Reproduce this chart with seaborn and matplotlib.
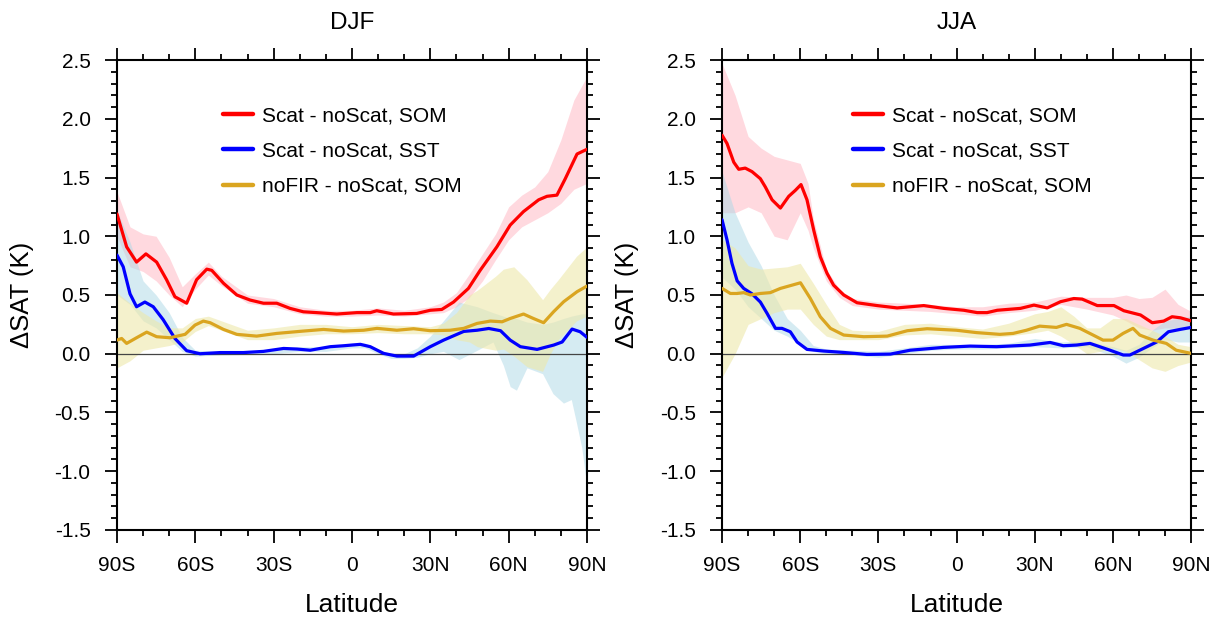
import numpy as np
import pandas as pd
import matplotlib
matplotlib.use("Agg")
import matplotlib.pyplot as plt
import seaborn as sns

# ---------------- DATA ----------------
# DJF mean curves
djf_red_lat = [-90, -86.3, -82.5, -78.9, -74.8, -71, -67.8, -63.3, -59.5, -55.6, -53.7, -49.2, -44.1, -39, -33.9,
               -28.8, -23.7, -18.6, -13.5, -5.8, 1.9, 7, 9.5, 15.9, 24.8, 30, 34.4, 38.9, 44.6, 49.1, 55.5, 60.6,
               65.7, 71.5, 74.7, 78.5, 81.7, 86.2, 90]
djf_red_val = [1.19, 0.91, 0.78, 0.85, 0.78, 0.63, 0.485, 0.43, 0.63, 0.72, 0.71, 0.60, 0.50, 0.457, 0.43,
               0.43, 0.386, 0.357, 0.35, 0.338, 0.35, 0.35, 0.366, 0.338, 0.343, 0.37, 0.377, 0.44, 0.556, 0.71,
               0.91, 1.095, 1.21, 1.31, 1.34, 1.35, 1.49, 1.70, 1.74]

djf_blue_lat = [-90, -87.6, -85, -82.5, -79.3, -76.1, -72.3, -67.8, -63.3, -58.2, -50.5, -41.6, -33.9, -26.2,
                -21.1, -16, -8.3, -3.2, 3.2, 7, 12.1, 17.2, 23.6, 30, 35.1, 42.8, 47.9, 52.4, 56.9, 60.6, 64.5,
                70.9, 77.3, 80.5, 84.3, 87.4, 90]
djf_blue_val = [0.84, 0.74, 0.51, 0.40, 0.44, 0.40, 0.29, 0.13, 0.026, 0.0, 0.01, 0.01, 0.02, 0.045,
                0.04, 0.03, 0.06, 0.068, 0.08, 0.06, 0.003, -0.02, -0.02, 0.06, 0.116, 0.19, 0.20, 0.215, 0.196,
                0.116, 0.06, 0.037, 0.074, 0.10, 0.21, 0.187, 0.14]

djf_gold_lat = [-90, -88.2, -86.3, -82.5, -78.6, -74.8, -69.7, -63.9, -60.1, -56.9, -54.3, -49.2, -44.1, -36.5,
                -28.8, -18.6, -10.9, -3.2, 4.5, 9.6, 17.2, 23.6, 30, 37.6, 42.8, 47.9, 53, 57.5, 60.6, 65.7,
                69.5, 73.4, 77.2, 81.1, 86.2, 90]
djf_gold_val = [0.116, 0.13, 0.088, 0.136, 0.184, 0.145, 0.136, 0.165, 0.244, 0.278, 0.264, 0.207, 0.165, 0.15,
                0.173, 0.193, 0.207, 0.193, 0.20, 0.216, 0.20, 0.213, 0.196, 0.20, 0.216, 0.258, 0.278, 0.272,
                0.30, 0.338, 0.30, 0.264, 0.357, 0.443, 0.528, 0.576]

# DJF uncertainty bands
djf_red_band_lat = [-90, -85, -80, -75, -70, -65, -60, -55, -50, -40, -30, -20, -10, 0, 10, 20, 30, 35, 40, 45,
                    50, 55, 60, 65, 70, 75, 80, 85, 90]
djf_red_lo = [1.00, 0.74, 0.70, 0.62, 0.50, 0.40, 0.55, 0.67, 0.58, 0.43, 0.40, 0.34, 0.32, 0.32, 0.33, 0.32,
              0.34, 0.35, 0.40, 0.48, 0.62, 0.80, 0.97, 1.08, 1.14, 1.20, 1.28, 1.40, 1.45]
djf_red_hi = [1.38, 1.08, 1.02, 1.00, 0.82, 0.57, 0.68, 0.78, 0.66, 0.50, 0.47, 0.40, 0.37, 0.37, 0.39, 0.37,
              0.40, 0.44, 0.52, 0.68, 0.85, 1.02, 1.25, 1.35, 1.42, 1.55, 1.82, 2.16, 2.36]

djf_blue_band_lat = [-90, -85, -80, -75, -70, -65, -60, -50, -40, -30, -20, -10, 0, 5, 10, 15, 20, 25, 30, 35,
                     41, 48, 54, 58, 60.6, 63, 67, 73, 77, 81, 84, 86, 88, 90]
djf_blue_lo = [0.50, 0.42, 0.28, 0.22, 0.12, 0.02, -0.02, -0.01, -0.005, 0.0, 0.02, 0.02, 0.05, 0.05, 0.0,
               -0.04, -0.04, -0.03, 0.0, 0.02, -0.05, 0.03, 0.10, -0.10, -0.28, -0.31, -0.12, -0.17, -0.34,
               -0.42, -0.39, -0.59, -0.80, -1.13]
djf_blue_hi = [1.22, 0.95, 0.62, 0.50, 0.35, 0.14, 0.03, 0.02, 0.025, 0.04, 0.06, 0.06, 0.09, 0.09, 0.04,
               0.0, 0.0, 0.05, 0.15, 0.28, 0.44, 0.40, 0.35, 0.32, 0.30, 0.30, 0.27, 0.25, 0.27, 0.30, 0.32,
               0.33, 0.34, 0.34]

djf_gold_band_lat = [-90, -85, -80, -75, -70, -65, -60, -55, -50, -40, -30, -20, -10, 0, 10, 20, 30, 35, 40, 45,
                     48, 55, 58, 62, 67, 73, 76, 79, 86, 90]
djf_gold_lo = [-0.12, -0.06, 0.03, 0.05, 0.07, 0.10, 0.19, 0.24, 0.20, 0.12, 0.12, 0.15, 0.17, 0.17, 0.18, 0.17,
               0.17, 0.16, 0.12, 0.10, 0.06, 0.03, 0.04, -0.02, -0.11, -0.15, 0.00, 0.12, 0.28, 0.32]
djf_gold_hi = [0.52, 0.43, 0.35, 0.28, 0.22, 0.22, 0.30, 0.32, 0.28, 0.20, 0.22, 0.25, 0.25, 0.23, 0.25, 0.24,
               0.23, 0.26, 0.35, 0.50, 0.54, 0.66, 0.72, 0.74, 0.63, 0.46, 0.55, 0.63, 0.83, 0.91]

# JJA mean curves
jja_red_lat = [-90, -88.1, -85.5, -83.6, -81.1, -78.5, -75.3, -73.4, -70.8, -67.6, -64.4, -61.9, -59.7, -57.4,
               -54.8, -52.3, -49.7, -47.2, -43.3, -38.2, -30.5, -22.8, -12.6, -4.9, 2.8, 7.9, 11.7, 15.6, 24.5,
               29.7, 34.8, 39.9, 45, 48.2, 54, 60.4, 64.2, 70.6, 75.1, 79.5, 82.7, 85.9, 90]
jja_red_val = [1.86, 1.79, 1.63, 1.57, 1.58, 1.55, 1.49, 1.42, 1.31, 1.24, 1.34, 1.39, 1.44, 1.31,
               1.05, 0.826, 0.684, 0.584, 0.50, 0.434, 0.41, 0.39, 0.41, 0.386, 0.37, 0.35, 0.35, 0.37, 0.386,
               0.414, 0.39, 0.443, 0.47, 0.465, 0.41, 0.41, 0.366, 0.33, 0.264, 0.278, 0.315, 0.306, 0.28]

jja_blue_lat = [-90, -88.1, -86.2, -84.2, -81.7, -78.5, -75.3, -72.7, -69.5, -67, -63.8, -61.2, -57.4, -51,
                -43.3, -34.4, -25.4, -17.8, -5, 5.2, 15.4, 28.2, 35.9, 41, 46.1, 51.2, 58.9, 64, 66.5, 71.7,
                76.8, 81.3, 85.8, 90]
jja_blue_val = [1.14, 0.97, 0.77, 0.62, 0.556, 0.51, 0.44, 0.343, 0.216, 0.216, 0.187, 0.10, 0.037, 0.023,
                0.011, -0.006, -0.003, 0.03, 0.054, 0.065, 0.06, 0.074, 0.096, 0.068, 0.074, 0.088, 0.03, -0.011,
                -0.011, 0.045, 0.10, 0.187, 0.207, 0.224]

jja_gold_lat = [-90, -86.8, -84.2, -81.7, -79.1, -75.3, -71.5, -67.6, -63.1, -59.9, -56.1, -52.3, -48.4, -43.3,
                -35.6, -26.6, -18.9, -11.3, -0.1, 7.6, 16.6, 21.7, 26.8, 31.9, 38.3, 42.2, 47.3, 52.4, 56.2, 60,
                63.9, 67.7, 70.3, 75.4, 80.5, 84.3, 90]
jja_gold_val = [0.556, 0.513, 0.513, 0.52, 0.50, 0.513, 0.52, 0.556, 0.584, 0.604, 0.47, 0.315, 0.216, 0.159,
                0.145, 0.15, 0.196, 0.213, 0.20, 0.18, 0.165, 0.173, 0.20, 0.235, 0.224, 0.25, 0.216, 0.159,
                0.116, 0.116, 0.173, 0.216, 0.159, 0.116, 0.088, 0.03, 0.003]

# JJA uncertainty bands
jja_red_band_lat = [-90, -85, -80, -75, -70, -65, -60, -57, -55, -50, -45, -40, -30, -20, -10, 0, 10, 20, 30,
                    40, 50, 60, 65, 70, 75, 80, 85, 90]
jja_red_lo = [1.20, 1.20, 1.25, 1.20, 1.00, 0.97, 1.20, 1.05, 0.90, 0.62, 0.48, 0.41, 0.38, 0.37, 0.36, 0.34,
              0.32, 0.35, 0.37, 0.42, 0.38, 0.33, 0.28, 0.22, 0.20, 0.22, 0.22, 0.22]
jja_red_hi = [2.47, 2.20, 1.85, 1.75, 1.68, 1.65, 1.62, 1.45, 1.15, 0.72, 0.55, 0.47, 0.44, 0.43, 0.42, 0.40,
              0.40, 0.43, 0.44, 0.49, 0.48, 0.48, 0.50, 0.47, 0.48, 0.55, 0.42, 0.36]

jja_blue_band_lat = [-90, -85, -80, -75, -70, -65, -60, -55, -50, -40, -30, -20, -10, 0, 10, 20, 30, 40, 50, 60,
                     65, 70, 75, 80, 85, 90]
jja_blue_lo = [0.65, 0.55, 0.40, 0.30, 0.20, 0.15, 0.08, 0.02, 0.00, -0.01, -0.03, 0.00, 0.03, 0.04, 0.04, 0.05,
               0.06, 0.05, 0.06, -0.02, -0.08, -0.03, 0.05, 0.12, 0.10, 0.10]
jja_blue_hi = [1.55, 1.20, 0.95, 0.75, 0.50, 0.30, 0.20, 0.07, 0.04, 0.03, 0.02, 0.05, 0.08, 0.08, 0.08, 0.09,
               0.13, 0.10, 0.11, 0.06, 0.03, 0.08, 0.20, 0.28, 0.30, 0.32]

jja_gold_band_lat = [-90, -85, -80, -75, -70, -65, -60, -55, -50, -45, -40, -30, -20, -10, 0, 10, 20, 30, 35, 40,
                     45, 50, 55, 60, 65, 70, 75, 80, 85, 90]
jja_gold_lo = [-0.20, 0.00, 0.25, 0.30, 0.35, 0.38, 0.38, 0.25, 0.15, 0.12, 0.12, 0.12, 0.16, 0.17, 0.15, 0.13,
               0.15, 0.18, 0.20, 0.15, 0.08, 0.00, 0.02, 0.05, 0.02, -0.05, -0.12, -0.15, -0.10, -0.07]
jja_gold_hi = [0.97, 0.90, 0.75, 0.72, 0.73, 0.74, 0.77, 0.60, 0.42, 0.25, 0.20, 0.19, 0.25, 0.26, 0.23, 0.21,
               0.26, 0.34, 0.36, 0.40, 0.32, 0.22, 0.22, 0.30, 0.30, 0.25, 0.20, 0.15, 0.08, 0.06]

series_labels = ["Scat - noScat, SOM", "Scat - noScat, SST", "noFIR - noScat, SOM"]
line_colors = ["#ff0000", "#0000ff", "#daa520"]
fill_colors = ["#ffc0cb", "#add8e6", "#eee8aa"]
fill_alphas = [0.6, 0.5, 0.6]

panel_titles = ["DJF", "JJA"]
xtick_vals = [-90, -60, -30, 0, 30, 60, 90]
xtick_labels = ["90S", "60S", "30S", "0", "30N", "60N", "90N"]
ytick_vals = [-1.5, -1.0, -0.5, 0.0, 0.5, 1.0, 1.5, 2.0, 2.5]
ytick_labels = ["-1.5", "-1.0", "-0.5", "0.0", "0.5", "1.0", "1.5", "2.0", "2.5"]

panels = [
    dict(lines=[(djf_red_lat, djf_red_val), (djf_blue_lat, djf_blue_val), (djf_gold_lat, djf_gold_val)],
         bands=[(djf_red_band_lat, djf_red_lo, djf_red_hi), (djf_blue_band_lat, djf_blue_lo, djf_blue_hi),
                (djf_gold_band_lat, djf_gold_lo, djf_gold_hi)]),
    dict(lines=[(jja_red_lat, jja_red_val), (jja_blue_lat, jja_blue_val), (jja_gold_lat, jja_gold_val)],
         bands=[(jja_red_band_lat, jja_red_lo, jja_red_hi), (jja_blue_band_lat, jja_blue_lo, jja_blue_hi),
                (jja_gold_band_lat, jja_gold_lo, jja_gold_hi)]),
]

# ---------------- PLOT ----------------
sns.set_theme(style="white")
plt.rcParams["font.family"] = ["Liberation Sans", "DejaVu Sans"]
plt.rcParams["text.color"] = "black"
plt.rcParams["axes.labelcolor"] = "black"
plt.rcParams["xtick.color"] = "black"
plt.rcParams["ytick.color"] = "black"

fig = plt.figure(figsize=(12.17, 6.2), dpi=100)
axes_rects = [[0.0961, 0.1452, 0.3862, 0.758], [0.5933, 0.1452, 0.3854, 0.758]]
legend_x = [0.2255, 0.279]

for i, p in enumerate(panels):
    ax = fig.add_axes(axes_rects[i])
    for (blat, lo, hi), fc, fa in zip(p["bands"], fill_colors, fill_alphas):
        ax.fill_between(blat, lo, hi, color=fc, alpha=fa, linewidth=0, zorder=1)
    ax.axhline(0, color="#444444", linewidth=0.9, zorder=2)
    for (lat, val), lc, lab in zip(p["lines"], line_colors, series_labels):
        df = pd.DataFrame({"lat": lat, "val": val})
        sns.lineplot(data=df, x="lat", y="val", color=lc, linewidth=2.3, ax=ax, label=lab,
                     sort=False, estimator=None, zorder=3)
    ax.set_xlim(-90, 90)
    ax.set_ylim(-1.5, 2.5)
    ax.set_xticks(xtick_vals)
    ax.set_xticklabels(xtick_labels)
    ax.set_xticks(np.arange(-90, 91, 10), minor=True)
    ax.set_yticks(ytick_vals)
    ax.set_yticklabels(ytick_labels)
    ax.set_yticks(np.arange(-1.5, 2.51, 0.1), minor=True)
    ax.tick_params(which="both", direction="out", top=True, right=True, bottom=True, left=True,
                   color="black", width=1.3, labelcolor="black")
    ax.tick_params(which="major", length=9, labelsize=15, pad=10)
    ax.tick_params(which="minor", length=4.5)
    for sp in ax.spines.values():
        sp.set_visible(True)
        sp.set_color("black")
        sp.set_linewidth(1.5)
    ax.set_xlabel("Latitude", fontsize=19, labelpad=13)
    ax.set_ylabel("\u0394SAT (K)", fontsize=18.5)
    ax.yaxis.set_label_coords(-0.176, 0.5)
    ax.set_title(panel_titles[i], fontsize=17.5, pad=22)
    leg = ax.legend(loc="upper left", bbox_to_anchor=(legend_x[i], 0.902), frameon=False, fontsize=15,
                    handlelength=1.45, handletextpad=0.42, labelspacing=0.79, borderpad=0, borderaxespad=0)
    for h in leg.get_lines():
        h.set_linewidth(3.2)

fig.savefig("out.png", dpi=100)
